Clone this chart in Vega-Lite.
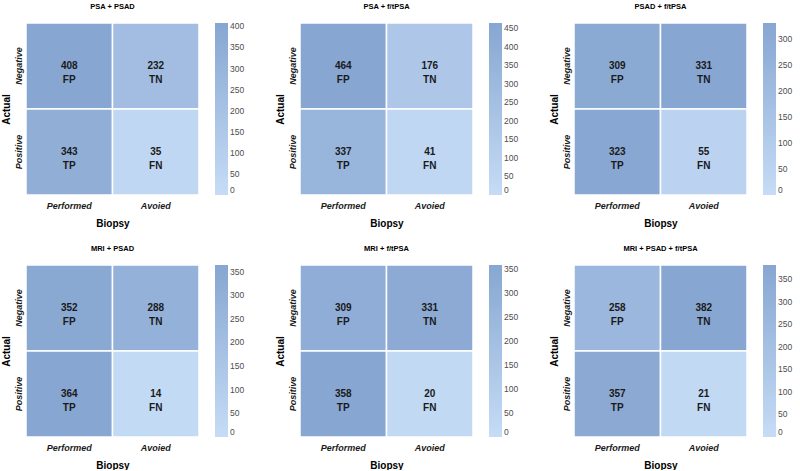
{
  "$schema": "https://vega.github.io/schema/vega-lite/v6.json",
  "padding": {"left": 1, "top": 2, "right": 0, "bottom": 0},
  "background": "white",
  "config": {
    "font": "Liberation Sans",
    "view": {"stroke": null},
    "title": {"fontSize": 7.5, "fontWeight": "bold", "anchor": "middle", "frame": "group", "offset": 12, "color": "#000000"},
    "axis": {"ticks": false, "domain": false, "grid": false, "labelFontStyle": "italic", "labelFontWeight": "bold", "labelFontSize": 9, "labelColor": "#1a1a1a", "titleFontSize": 10, "titleFontWeight": "bold", "titleColor": "#000000"},
    "axisX": {"labelAngle": 0, "labelPadding": 6, "titlePadding": 8},
    "axisY": {"labelAngle": -90, "labelPadding": 3, "titlePadding": 3},
    "legend": {"orient": "right", "offset": 16, "gradientLength": 172, "gradientThickness": 13, "gradientStrokeWidth": 0, "labelFontSize": 8.5, "labelColor": "#4d4d4d", "labelOffset": 5, "direction": "vertical"}
  },
  "data": {"values": [
    {"panel": "PSA + PSAD", "biopsy": "Performed", "actual": "Negative", "n": 408, "type": "FP"},
    {"panel": "PSA + PSAD", "biopsy": "Avoied", "actual": "Negative", "n": 232, "type": "TN"},
    {"panel": "PSA + PSAD", "biopsy": "Performed", "actual": "Positive", "n": 343, "type": "TP"},
    {"panel": "PSA + PSAD", "biopsy": "Avoied", "actual": "Positive", "n": 35, "type": "FN"},
    {"panel": "PSA + f/tPSA", "biopsy": "Performed", "actual": "Negative", "n": 464, "type": "FP"},
    {"panel": "PSA + f/tPSA", "biopsy": "Avoied", "actual": "Negative", "n": 176, "type": "TN"},
    {"panel": "PSA + f/tPSA", "biopsy": "Performed", "actual": "Positive", "n": 337, "type": "TP"},
    {"panel": "PSA + f/tPSA", "biopsy": "Avoied", "actual": "Positive", "n": 41, "type": "FN"},
    {"panel": "PSAD + f/tPSA", "biopsy": "Performed", "actual": "Negative", "n": 309, "type": "FP"},
    {"panel": "PSAD + f/tPSA", "biopsy": "Avoied", "actual": "Negative", "n": 331, "type": "TN"},
    {"panel": "PSAD + f/tPSA", "biopsy": "Performed", "actual": "Positive", "n": 323, "type": "TP"},
    {"panel": "PSAD + f/tPSA", "biopsy": "Avoied", "actual": "Positive", "n": 55, "type": "FN"},
    {"panel": "MRI + PSAD", "biopsy": "Performed", "actual": "Negative", "n": 352, "type": "FP"},
    {"panel": "MRI + PSAD", "biopsy": "Avoied", "actual": "Negative", "n": 288, "type": "TN"},
    {"panel": "MRI + PSAD", "biopsy": "Performed", "actual": "Positive", "n": 364, "type": "TP"},
    {"panel": "MRI + PSAD", "biopsy": "Avoied", "actual": "Positive", "n": 14, "type": "FN"},
    {"panel": "MRI + f/tPSA", "biopsy": "Performed", "actual": "Negative", "n": 309, "type": "FP"},
    {"panel": "MRI + f/tPSA", "biopsy": "Avoied", "actual": "Negative", "n": 331, "type": "TN"},
    {"panel": "MRI + f/tPSA", "biopsy": "Performed", "actual": "Positive", "n": 358, "type": "TP"},
    {"panel": "MRI + f/tPSA", "biopsy": "Avoied", "actual": "Positive", "n": 20, "type": "FN"},
    {"panel": "MRI + PSAD + f/tPSA", "biopsy": "Performed", "actual": "Negative", "n": 258, "type": "FP"},
    {"panel": "MRI + PSAD + f/tPSA", "biopsy": "Avoied", "actual": "Negative", "n": 382, "type": "TN"},
    {"panel": "MRI + PSAD + f/tPSA", "biopsy": "Performed", "actual": "Positive", "n": 357, "type": "TP"},
    {"panel": "MRI + PSAD + f/tPSA", "biopsy": "Avoied", "actual": "Positive", "n": 21, "type": "FN"}
  ]},
  "columns": 3,
  "spacing": {"row": 16, "column": 30},
  "resolve": {"scale": {"color": "independent", "x": "independent", "y": "independent"}, "legend": {"color": "independent"}},
  "concat": [
    {
      "title": "PSA + PSAD",
      "transform": [{"filter": "datum.panel === 'PSA + PSAD'"}],
      "width": 173, "height": 172,
      "encoding": {
        "x": {"field": "biopsy", "type": "nominal", "sort": ["Performed", "Avoied"], "title": "Biopsy"},
        "y": {"field": "actual", "type": "nominal", "sort": ["Negative", "Positive"], "title": "Actual"}
      },
      "layer": [
        {"mark": {"type": "rect", "stroke": "white", "strokeWidth": 1.5}, "encoding": {"color": {"field": "n", "type": "quantitative", "scale": {"domainMin": 0, "nice": false, "range": ["#c6dcf6", "#87a6d1"]}, "legend": {"title": null, "values": [0, 50, 100, 150, 200, 250, 300, 350, 400]}}}},
        {"mark": {"type": "text", "fontWeight": "bold", "fontSize": 10, "color": "#1a1a1a"}, "encoding": {"text": {"field": "n", "type": "quantitative"}}},
        {"mark": {"type": "text", "fontWeight": "bold", "fontSize": 10, "color": "#1a1a1a", "dy": 14}, "encoding": {"text": {"field": "type", "type": "nominal"}}}
      ]
    },
    {
      "title": "PSA + f/tPSA",
      "transform": [{"filter": "datum.panel === 'PSA + f/tPSA'"}],
      "width": 173, "height": 172,
      "encoding": {
        "x": {"field": "biopsy", "type": "nominal", "sort": ["Performed", "Avoied"], "title": "Biopsy"},
        "y": {"field": "actual", "type": "nominal", "sort": ["Negative", "Positive"], "title": "Actual"}
      },
      "layer": [
        {"mark": {"type": "rect", "stroke": "white", "strokeWidth": 1.5}, "encoding": {"color": {"field": "n", "type": "quantitative", "scale": {"domainMin": 0, "nice": false, "range": ["#c6dcf6", "#87a6d1"]}, "legend": {"title": null, "values": [0, 50, 100, 150, 200, 250, 300, 350, 400, 450]}}}},
        {"mark": {"type": "text", "fontWeight": "bold", "fontSize": 10, "color": "#1a1a1a"}, "encoding": {"text": {"field": "n", "type": "quantitative"}}},
        {"mark": {"type": "text", "fontWeight": "bold", "fontSize": 10, "color": "#1a1a1a", "dy": 14}, "encoding": {"text": {"field": "type", "type": "nominal"}}}
      ]
    },
    {
      "title": "PSAD + f/tPSA",
      "transform": [{"filter": "datum.panel === 'PSAD + f/tPSA'"}],
      "width": 173, "height": 172,
      "encoding": {
        "x": {"field": "biopsy", "type": "nominal", "sort": ["Performed", "Avoied"], "title": "Biopsy"},
        "y": {"field": "actual", "type": "nominal", "sort": ["Negative", "Positive"], "title": "Actual"}
      },
      "layer": [
        {"mark": {"type": "rect", "stroke": "white", "strokeWidth": 1.5}, "encoding": {"color": {"field": "n", "type": "quantitative", "scale": {"domainMin": 0, "nice": false, "range": ["#c6dcf6", "#87a6d1"]}, "legend": {"title": null, "values": [0, 50, 100, 150, 200, 250, 300]}}}},
        {"mark": {"type": "text", "fontWeight": "bold", "fontSize": 10, "color": "#1a1a1a"}, "encoding": {"text": {"field": "n", "type": "quantitative"}}},
        {"mark": {"type": "text", "fontWeight": "bold", "fontSize": 10, "color": "#1a1a1a", "dy": 14}, "encoding": {"text": {"field": "type", "type": "nominal"}}}
      ]
    },
    {
      "title": "MRI + PSAD",
      "transform": [{"filter": "datum.panel === 'MRI + PSAD'"}],
      "width": 173, "height": 172,
      "encoding": {
        "x": {"field": "biopsy", "type": "nominal", "sort": ["Performed", "Avoied"], "title": "Biopsy"},
        "y": {"field": "actual", "type": "nominal", "sort": ["Negative", "Positive"], "title": "Actual"}
      },
      "layer": [
        {"mark": {"type": "rect", "stroke": "white", "strokeWidth": 1.5}, "encoding": {"color": {"field": "n", "type": "quantitative", "scale": {"domainMin": 0, "nice": false, "range": ["#c6dcf6", "#87a6d1"]}, "legend": {"title": null, "values": [0, 50, 100, 150, 200, 250, 300, 350]}}}},
        {"mark": {"type": "text", "fontWeight": "bold", "fontSize": 10, "color": "#1a1a1a"}, "encoding": {"text": {"field": "n", "type": "quantitative"}}},
        {"mark": {"type": "text", "fontWeight": "bold", "fontSize": 10, "color": "#1a1a1a", "dy": 14}, "encoding": {"text": {"field": "type", "type": "nominal"}}}
      ]
    },
    {
      "title": "MRI + f/tPSA",
      "transform": [{"filter": "datum.panel === 'MRI + f/tPSA'"}],
      "width": 173, "height": 172,
      "encoding": {
        "x": {"field": "biopsy", "type": "nominal", "sort": ["Performed", "Avoied"], "title": "Biopsy"},
        "y": {"field": "actual", "type": "nominal", "sort": ["Negative", "Positive"], "title": "Actual"}
      },
      "layer": [
        {"mark": {"type": "rect", "stroke": "white", "strokeWidth": 1.5}, "encoding": {"color": {"field": "n", "type": "quantitative", "scale": {"domainMin": 0, "nice": false, "range": ["#c6dcf6", "#87a6d1"]}, "legend": {"title": null, "values": [0, 50, 100, 150, 200, 250, 300, 350]}}}},
        {"mark": {"type": "text", "fontWeight": "bold", "fontSize": 10, "color": "#1a1a1a"}, "encoding": {"text": {"field": "n", "type": "quantitative"}}},
        {"mark": {"type": "text", "fontWeight": "bold", "fontSize": 10, "color": "#1a1a1a", "dy": 14}, "encoding": {"text": {"field": "type", "type": "nominal"}}}
      ]
    },
    {
      "title": "MRI + PSAD + f/tPSA",
      "transform": [{"filter": "datum.panel === 'MRI + PSAD + f/tPSA'"}],
      "width": 173, "height": 172,
      "encoding": {
        "x": {"field": "biopsy", "type": "nominal", "sort": ["Performed", "Avoied"], "title": "Biopsy"},
        "y": {"field": "actual", "type": "nominal", "sort": ["Negative", "Positive"], "title": "Actual"}
      },
      "layer": [
        {"mark": {"type": "rect", "stroke": "white", "strokeWidth": 1.5}, "encoding": {"color": {"field": "n", "type": "quantitative", "scale": {"domainMin": 0, "nice": false, "range": ["#c6dcf6", "#87a6d1"]}, "legend": {"title": null, "values": [0, 50, 100, 150, 200, 250, 300, 350]}}}},
        {"mark": {"type": "text", "fontWeight": "bold", "fontSize": 10, "color": "#1a1a1a"}, "encoding": {"text": {"field": "n", "type": "quantitative"}}},
        {"mark": {"type": "text", "fontWeight": "bold", "fontSize": 10, "color": "#1a1a1a", "dy": 14}, "encoding": {"text": {"field": "type", "type": "nominal"}}}
      ]
    }
  ]
}
